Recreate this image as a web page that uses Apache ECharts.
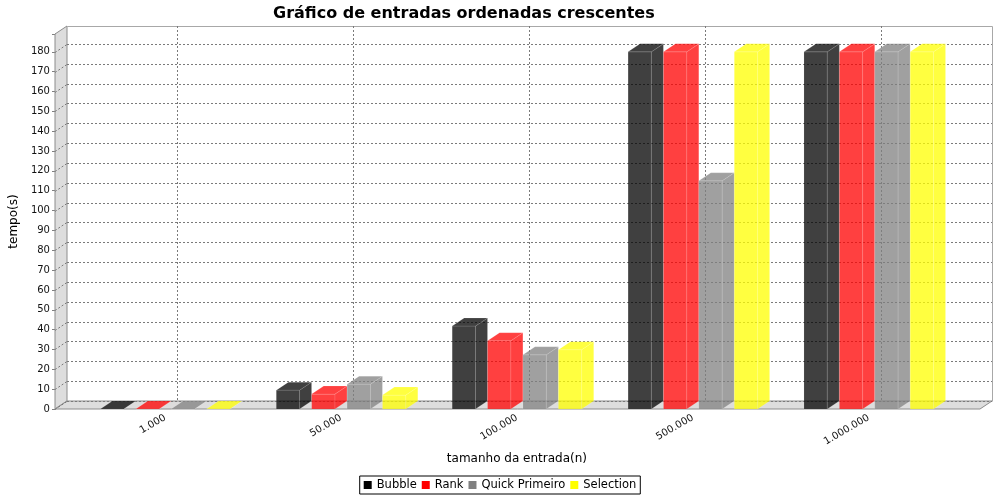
<!DOCTYPE html>
<html>
<head>
<meta charset="utf-8">
<script src="https://cdn.jsdelivr.net/npm/echarts@6/dist/echarts.min.js"></script>
<style>html,body{margin:0;padding:0;background:#fff}#c{width:1000px;height:500px}</style>
</head>
<body>
<div id="c"></div>
<script>
const categories = ['1.000', '50.000', '100.000', '500.000', '1.000.000'];
const seriesNames = ['Bubble', 'Rank', 'Quick Primeiro', 'Selection'];
const bubble = [0, 9.5, 41.8, 180, 180];
const rank = [0, 7.5, 34.4, 180, 180];
const quick = [0, 12.5, 27.3, 115, 180];
const selection = [0, 7, 29.9, 180, 180];
const yTicks = [0, 10, 20, 30, 40, 50, 60, 70, 80, 90, 100, 110, 120, 130, 140, 150, 160, 170, 180];
const colors = ['#000000', '#ff0000', '#808080', '#ffff00'];
const Y_MAX = 189;

const DX = 12, DY = 8;
const FONT = 'DejaVu Sans';
const GRID_COLOR = '#7a7a7a';
const EDGE_COLOR = '#8c8c8c';
const WALL_FILL = '#dddddd';

function px(v) { return Math.round(v) + 0.5; }

// Walls, floor and horizontal gridlines (grid 0, value x 0..1)
function renderWalls(params, api) {
  const fl = api.coord([0, 0]);
  const ft = api.coord([0, Y_MAX]);
  const fr = api.coord([1, 0]);
  const L = Math.round(fl[0]), R = Math.round(fr[0]);
  const B = Math.round(fl[1]), T = Math.round(ft[1]);
  const children = [];
  children.push({ type: 'polygon', shape: { points: [[L + DX, T - DY], [R + DX, T - DY], [R + DX, B - DY], [L + DX, B - DY]] },
    style: { fill: '#ffffff', stroke: null } });
  children.push({ type: 'polyline', shape: { points: [[L + DX + 0.5, T - DY + 0.5], [R + DX + 0.5, T - DY + 0.5], [R + DX + 0.5, B - DY + 0.5]] },
    style: { fill: null, stroke: '#a8a8a8', lineWidth: 1 } });
  children.push({ type: 'polygon', shape: { points: [[L, T], [L + DX, T - DY], [L + DX, B - DY], [L, B]] },
    style: { fill: WALL_FILL, stroke: EDGE_COLOR, lineWidth: 1 } });
  children.push({ type: 'polygon', shape: { points: [[L, B], [R, B], [R + DX, B - DY], [L + DX, B - DY]] },
    style: { fill: WALL_FILL, stroke: EDGE_COLOR, lineWidth: 1 } });
  yTicks.forEach(function (v) {
    const p = api.coord([0, v]);
    const y = Math.round(p[1]);
    children.push({ type: 'line', shape: { x1: L + DX, y1: y - DY + 0.5, x2: R + DX, y2: y - DY + 0.5 },
      style: { stroke: GRID_COLOR, lineWidth: 1, lineDash: [2, 2] } });
    children.push({ type: 'line', shape: { x1: L, y1: y + 0.5, x2: L + DX, y2: y - DY + 0.5 },
      style: { stroke: GRID_COLOR, lineWidth: 1, lineDash: [2, 2] } });
  });
  return { type: 'group', children: children };
}

// vertical category gridlines (grid 1)
function renderVGrid(params, api) {
  const i = api.value(0);
  const b = api.coord([i, 0]);
  const t = api.coord([i, Y_MAX]);
  const x = px(b[0] + DX);
  return { type: 'line', shape: { x1: x, y1: Math.round(t[1]) - DY, x2: x, y2: Math.round(b[1]) - DY },
    style: { stroke: GRID_COLOR, lineWidth: 1, lineDash: [2, 2] } };
}

function makeBarRenderer(s) {
  return function (params, api) {
    const i = api.value(0), v = api.value(1);
    const top = api.coord([i, v]);
    const base = api.coord([i, 0]);
    const band = api.size([1, 0])[0];
    const w = band * 0.1325;
    const pitch = band * 0.2013;
    const x0 = top[0] + (s - 1.5) * pitch - w / 2;
    const x1 = x0 + w;
    const yt = top[1], yb = base[1];
    const fill = colors[s];
    const st = { fill: fill, opacity: 0.75, stroke: 'rgba(255,255,255,0.15)', lineWidth: 1 };
    return { type: 'group', children: [
      { type: 'rect', shape: { x: x0, y: yt, width: w, height: yb - yt }, style: st },
      { type: 'polygon', shape: { points: [[x1, yt], [x1 + DX, yt - DY], [x1 + DX, yb - DY], [x1, yb]] }, style: st },
      { type: 'polygon', shape: { points: [[x0, yt], [x0 + DX, yt - DY], [x1 + DX, yt - DY], [x1, yt]] }, style: st }
    ] };
  };
}

const seriesData = [bubble, rank, quick, selection];

const chart = echarts.init(document.getElementById('c'), null, { renderer: 'canvas' });
const series = [
  { type: 'custom', name: '_walls', xAxisIndex: 0, yAxisIndex: 0, renderItem: renderWalls, data: [[0, 0]], z: 1, silent: true },
  { type: 'custom', name: '_vgrid', xAxisIndex: 1, yAxisIndex: 1, renderItem: renderVGrid,
    data: categories.map(function (c, i) { return [i, 0]; }), z: 2, silent: true }
];
seriesNames.forEach(function (n, s) {
  series.push({ type: 'custom', name: n, xAxisIndex: 1, yAxisIndex: 1, renderItem: makeBarRenderer(s),
    itemStyle: { color: colors[s] }, encode: { x: 0, y: 1 },
    data: seriesData[s].map(function (v, i) { return [i, v]; }), z: 3 });
});

chart.setOption({
  animation: false,
  backgroundColor: '#ffffff',
  title: {
    text: 'Gráfico de entradas ordenadas crescentes',
    left: 268, top: 1,
    textStyle: { fontFamily: FONT, fontSize: 16, fontWeight: 'bold', color: '#000' }
  },
  legend: {
    data: seriesNames,
    left: 'center', top: 476,
    icon: 'rect', itemWidth: 8, itemHeight: 8, itemGap: 5, itemTextGap: 4,
    padding: [3, 4], borderColor: '#000', borderWidth: 1,
    textStyle: { fontFamily: FONT, fontSize: 11.5, color: '#000' }
  },
  grid: [
    { left: 54, width: 926, top: 34, height: 375, containLabel: false },
    { left: 77.2, width: 879.5, top: 34, height: 375, containLabel: false }
  ],
  xAxis: [
    { type: 'value', gridIndex: 0, min: 0, max: 1, show: false },
    { type: 'category', gridIndex: 1, data: categories, boundaryGap: true,
      axisLine: { show: false }, axisTick: { show: false }, splitLine: { show: false },
      axisLabel: { rotate: 30, fontFamily: FONT, fontSize: 10, color: '#111', margin: 8, interval: 0 },
      name: 'tamanho da entrada(n)', nameLocation: 'middle', nameGap: 44,
      nameTextStyle: { fontFamily: FONT, fontSize: 12, color: '#000' } }
  ],
  yAxis: [
    { type: 'value', gridIndex: 0, min: 0, max: Y_MAX, interval: 10,
      axisLine: { show: true, lineStyle: { color: EDGE_COLOR } },
      axisTick: { show: true, length: 3, lineStyle: { color: '#808080' } },
      splitLine: { show: false },
      axisLabel: { fontFamily: FONT, fontSize: 10, color: '#111', margin: 5,
        customValues: yTicks, formatter: function (v) { return v; } },
      name: 'tempo(s)', nameLocation: 'middle', nameGap: 29,
      nameTextStyle: { fontFamily: FONT, fontSize: 12, color: '#000' } },
    { type: 'value', gridIndex: 1, min: 0, max: Y_MAX, interval: 10, show: false }
  ],
  series: series
});
</script>
</body>
</html>
